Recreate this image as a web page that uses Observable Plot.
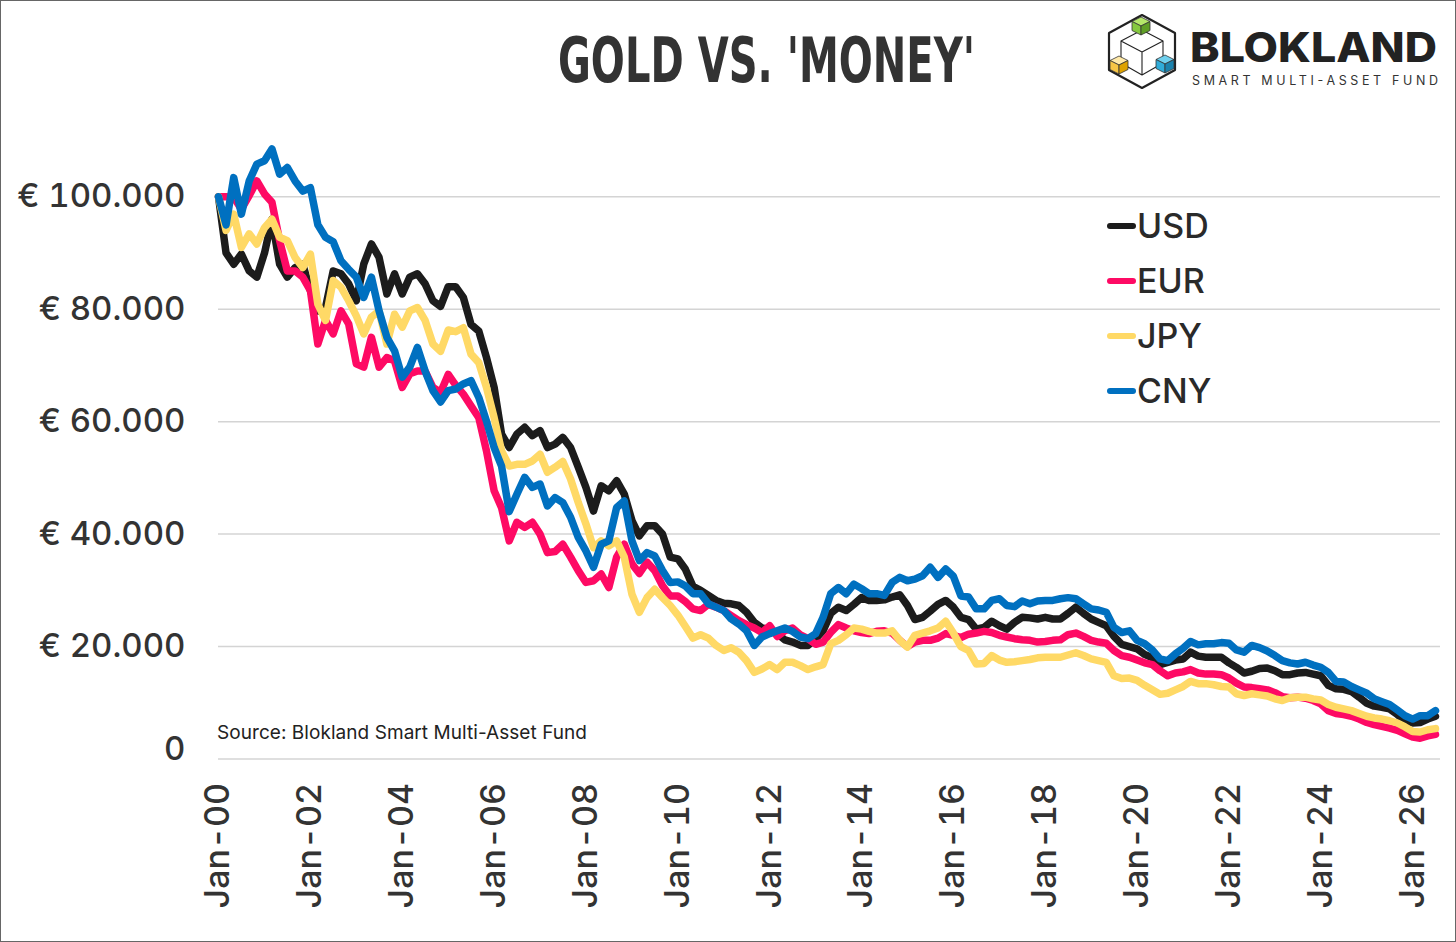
<!DOCTYPE html>
<html>
<head>
<meta charset="utf-8">
<script src="https://cdn.jsdelivr.net/npm/d3@7"></script>
<script src="https://cdn.jsdelivr.net/npm/@observablehq/plot@0.6"></script>
<style>
  html, body { margin: 0; padding: 0; background: #fff; }
  #wrap { position: relative; width: 1456px; height: 942px; overflow: hidden; background: #fff; font-family: Inter, "Noto Sans", sans-serif; }
  #head { display: block; }
  #chart svg { display: block; }
  #overlay { position: absolute; left: 0; top: 0; pointer-events: none; }
  #frame { position: absolute; left: 0; top: 0; width: 1454px; height: 940px; border: 1px solid #666; pointer-events: none; }
</style>
</head>
<body>
<div id="wrap">
  <svg id="head" width="1456" height="120"></svg>
  <div id="chart"></div>
  <svg id="overlay" width="1456" height="942"></svg>
  <div id="frame"></div>
</div>
<script>
// ---- data (values in thousands of euro, one point every two months from Jan-2000) ----
const series = ["USD", "EUR", "JPY", "CNY"];
const colors = ["#1c1c1c", "#fe0a64", "#ffd966", "#0070c0"];
const xTickYears = [2000, 2002, 2004, 2006, 2008, 2010, 2012, 2014, 2016, 2018, 2020, 2022, 2024, 2026];
const yTicks = [20, 40, 60, 80, 100];

const usd = [
  100, 90, 88, 89.8, 86.8, 85.7, 90, 96, 88, 85.7, 87.4, 88,
  83.3, 79.7, 80.3, 86.8, 86.3, 84.5, 81.5, 88, 91.6, 89.2, 82.7, 86.3,
  82.7, 85.7, 86.3, 84.5, 81.5, 80.5, 84, 84, 82.1, 77.3, 76.1, 71.4,
  66.1, 57.8, 55.4, 57.8, 59, 57.5, 58.4, 55.4, 56, 57.2, 55.4, 51.9,
  48.3, 44.1, 48.6, 47.7, 49.5, 47.1, 42.4, 39.7, 41.5, 41.5, 40, 35.9,
  35.6, 33.8, 30.7, 30, 29.1, 28.2, 27.7, 27.6, 27.3, 26.1, 24.3, 23.3,
  23, 22.3, 21.2, 20.8, 20.2, 20.2, 21.4, 22.8, 25.9, 27, 26.4, 27.5,
  28.7, 28.2, 28.2, 28.3, 28.8, 29.2, 27.3, 24.8, 25.2, 26.3, 27.5, 28.2,
  27, 25.2, 24.8, 23.1, 23.4, 24.5, 23.7, 23.1, 24.3, 25.2, 25.1, 24.9,
  25.2, 24.9, 24.9, 25.9, 27, 25.9, 24.9, 24.3, 23.7, 21.8, 20.4, 20,
  19.6, 18.6, 18, 16.8, 17.2, 17.6, 17.8, 19, 18.3, 18.1, 18.1, 18.1,
  17.1, 16.3, 15.3, 15.6, 16.1, 16.2, 15.7, 15, 15, 15.3, 15.4, 15.1,
  14.8, 13.1, 12.5, 12.4, 12, 11, 9.9, 9.4, 9.2, 8.9, 7.9, 6.8,
  6.4, 6.5, 7.1, 7.6
];
const eur = [
  100, 100, 99.9, 97.8, 100.2, 102.8, 100.5, 99, 92.2, 86.8, 86.8, 85.7,
  83.3, 73.8, 78, 75.6, 79.7, 77.4, 70.3, 69.7, 75, 69.7, 71.4, 70.8,
  66.1, 68.5, 69, 69, 66.1, 65.2, 68.4, 66.5, 64.9, 62.8, 60.7, 54.8,
  47.7, 44.7, 38.8, 42.1, 41.2, 42.1, 40, 36.7, 36.9, 38.2, 35.9, 33.5,
  31.4, 31.7, 32.9, 30.5, 35.9, 38.2, 34.7, 33, 35, 33.5, 30.8, 29,
  29, 28, 26.7, 26.4, 27.5, 27, 26.4, 25.5, 24.6, 23.9, 23.3, 22.5,
  23.7, 21.8, 22.8, 23.3, 22.1, 21.4, 20.4, 20.8, 22.5, 23.9, 23.3, 22.8,
  22.5, 22.3, 22.7, 22.8, 22.4, 21.1, 20, 20.8, 21.1, 21.1, 21.5, 22.3,
  22, 21.6, 22.2, 22.4, 22.7, 22.5, 22, 21.7, 21.4, 21.2, 21.1, 20.8,
  20.9, 21.1, 21.2, 22.1, 22.4, 21.8, 21.1, 20.8, 20.6, 19.3, 18.4, 18.1,
  17.6, 17.1, 16.8, 15.7, 14.8, 15.3, 15.5, 15.9, 15.3, 15.1, 15.1, 15,
  14.4, 13.5, 12.8, 12.7, 12.5, 12.3, 11.8, 11.1, 10.9, 11, 10.8, 10.4,
  9.8, 8.6, 8.1, 7.9, 7.6, 7.1, 6.5, 6.1, 5.8, 5.5, 5.1, 4.5,
  3.9, 3.7, 4.1, 4.4
];
const jpy = [
  100, 94, 96.9, 91, 93.4, 91.6, 94.5, 96, 92.8, 92.2, 89.2, 87.4,
  89.8, 80.9, 78, 85.1, 83.9, 81.5, 78.8, 75.6, 78.6, 79.7, 73.8, 79.1,
  76.8, 79.7, 80.3, 78, 73.8, 72.5, 76.3, 76, 76.7, 72, 70.5, 66.1,
  60.7, 54.8, 52.1, 52.4, 52.4, 53, 54.2, 51, 51.9, 52.9, 49.8, 45.6,
  41.8, 37.6, 38.8, 37.9, 38.8, 35.9, 29.3, 26.1, 28.7, 30.2, 28.7, 27.3,
  25.6, 23.6, 21.5, 22.1, 21.5, 20.2, 19.3, 19.8, 19, 17.5, 15.4, 16,
  16.8, 15.9, 17.2, 17.2, 16.6, 15.9, 16.4, 16.8, 20.5, 21.1, 22.1, 23.3,
  23.1, 22.7, 22.4, 22.4, 22.8, 21.1, 19.9, 22, 22.4, 22.8, 23.3, 24.5,
  22.4, 20, 19.3, 16.9, 17, 18.4, 17.6, 17.2, 17.3, 17.5, 17.7, 18,
  18.1, 18.1, 18.1, 18.5, 18.9, 18.4, 17.8, 17.5, 17.2, 14.8, 14.3, 14.4,
  14, 13.1, 12.3, 11.5, 11.7, 12.3, 12.9, 13.8, 13.4, 13.4, 13.2, 12.9,
  12.8, 11.6, 11.3, 11.6, 11.4, 11.2, 10.7, 10.4, 10.9, 11, 11, 10.7,
  10.5, 9.7, 9.2, 8.9, 8.6, 8.1, 7.6, 7.3, 7.1, 6.8, 6.4, 5.7,
  4.9, 4.8, 5.2, 5.4
];
const cny = [
  100, 95, 103.4, 96.9, 102.8, 105.8, 106.4, 108.5, 104, 105.2, 102.8, 101,
  101.6, 95, 92.8, 92, 88.6, 87.1, 85.7, 82.1, 85.7, 79.7, 75, 72.6,
  67.9, 69.7, 73.2, 69, 65.5, 63.5, 65.5, 65.8, 66.7, 67.3, 64.3, 60.1,
  55.4, 52.1, 44, 47.1, 50.1, 48.3, 48.9, 45, 46.5, 45.6, 43, 39.4,
  37, 34.1, 38.2, 38.8, 44.7, 45.9, 38.8, 35.3, 36.7, 36.1, 33.5, 31.4,
  31.5, 30.8, 29.4, 29.4, 27.6, 27, 26.4, 24.9, 24, 22.8, 20.2, 21.7,
  22.3, 22.8, 23.3, 22.7, 21.7, 21.4, 22.3, 25.2, 29.4, 30.5, 29.4, 31.1,
  30.3, 29.4, 29.4, 29.1, 31.4, 32.3, 31.7, 32, 32.6, 34.1, 32.3, 33.8,
  32.5, 29, 28.8, 26.7, 26.7, 28.2, 28.5, 27.3, 27.1, 28.1, 27.6, 28.1,
  28.2, 28.2, 28.5, 28.7, 28.5, 27.6, 26.7, 26.5, 26.1, 23.4, 22.5, 22.8,
  21.1, 20.5, 19.4, 17.8, 17.5, 18.7, 19.7, 20.9, 20.3, 20.5, 20.5, 20.7,
  20.6, 19.4, 19, 20.2, 19.8, 19.2, 18.4, 17.5, 17.1, 16.9, 17.2, 16.7,
  16.3, 15.4, 13.8, 13.7, 12.9, 12.3, 11.7, 10.7, 10.2, 9.7, 8.7, 7.7,
  7.1, 7.7, 7.7, 8.6
];
const valuesBySeries = [usd, eur, jpy, cny];

// ---- table ----
const dates = d3.utcMonth.every(2).range(new Date(Date.UTC(2000, 0, 1)), new Date(Date.UTC(2026, 8, 1)));
const rows = series.flatMap((s, i) => valuesBySeries[i].map((v, j) => ({ series: s, date: dates[j], value: v })));
const xTicks = xTickYears.map(y => new Date(Date.UTC(y, 0, 1)));

const euro = d => "€ " + d3.format(",")(d * 1000).replace(/,/g, ".");

const chart = Plot.plot({
  width: 1456,
  height: 822,
  marginLeft: 218,
  marginRight: 16,
  marginTop: 20,
  marginBottom: 183.5,
  style: { fontFamily: "Inter, 'Noto Sans', sans-serif", color: "#333", background: "transparent", overflow: "visible" },
  x: { type: "utc", domain: [new Date(Date.UTC(2000, 0, 1)), new Date(Date.UTC(2026, 7, 10))], label: null },
  y: { domain: [0, 110], label: null },
  color: { domain: series, range: colors },
  marks: [
    Plot.gridY([0, ...yTicks], { stroke: "#d4d4d4", strokeOpacity: 1, strokeWidth: 1.5 }),
    Plot.axisY(yTicks, { tickSize: 0, tickPadding: 33, tickFormat: euro, fontSize: 33, fontWeight: 500, label: null }),
    Plot.axisY([0], { tickSize: 0, tickPadding: 33, tickFormat: () => "0", fontSize: 33, fontWeight: 500, dy: -10, label: null }),
    Plot.axisX(xTicks, { tickSize: 0, tickPadding: 24, tickRotate: -90, tickFormat: d3.utcFormat("%b-%y"), fontSize: 34, fontWeight: 500, label: null }),
    Plot.lineY(rows, { x: "date", y: "value", z: "series", stroke: "series", strokeWidth: 7.5, strokeLinejoin: "round", strokeLinecap: "round" })
  ]
});
document.getElementById("chart").appendChild(chart);

// ---- header: title + logo ----
const head = d3.select("#head");
head.append("text")
  .attr("x", 558).attr("y", 82)
  .attr("textLength", 417).attr("lengthAdjust", "spacingAndGlyphs")
  .attr("font-family", "'DejaVu Sans Condensed', 'DejaVu Sans', sans-serif")
  .attr("font-weight", "bold").attr("font-size", 62).attr("fill", "#333")
  .text("GOLD VS. 'MONEY'");

const logo = head.append("g");
logo.append("polygon")
  .attr("points", "1142,15 1175,33 1175,70 1142,88 1109,70 1109,33")
  .attr("fill", "none").attr("stroke", "#222").attr("stroke-width", 2.2).attr("stroke-linejoin", "round");
logo.append("path")
  .attr("d", "M1142,30 L1121,41 L1142,52 L1163,41 Z M1121,41 L1121,63 L1142,75 L1163,63 L1163,41 M1142,52 L1142,75")
  .attr("fill", "none").attr("stroke", "#222").attr("stroke-width", 1.1).attr("stroke-linejoin", "round");
function cube(cx, cy, s, top, left, right) {
  const g = logo.append("g").attr("stroke", "#333").attr("stroke-width", 0.8).attr("stroke-linejoin", "round");
  g.append("polygon").attr("points", `${cx},${cy - s} ${cx + s},${cy - s / 2} ${cx},${cy} ${cx - s},${cy - s / 2}`).attr("fill", top);
  g.append("polygon").attr("points", `${cx - s},${cy - s / 2} ${cx},${cy} ${cx},${cy + s} ${cx - s},${cy + s / 2}`).attr("fill", left);
  g.append("polygon").attr("points", `${cx},${cy} ${cx + s},${cy - s / 2} ${cx + s},${cy + s / 2} ${cx},${cy + s}`).attr("fill", right);
}
cube(1141, 26, 9, "#b5e86a", "#86c93f", "#5f9e25");
cube(1119, 65, 9, "#ffe9a8", "#f7c545", "#dea200");
cube(1165, 64, 9, "#6fd0ee", "#30acd9", "#1b82ad");

// logo wordmark
head.append("text")
  .attr("x", 1190).attr("y", 62)
  .attr("textLength", 247).attr("lengthAdjust", "spacingAndGlyphs")
  .attr("font-family", "Inter, 'Noto Sans', sans-serif").attr("font-weight", 800)
  .attr("font-size", 40.5).attr("fill", "#222")
  .text("BLOKLAND");
head.append("text")
  .attr("x", 1192).attr("y", 84.5)
  .attr("textLength", 246).attr("lengthAdjust", "spacing")
  .attr("font-family", "Inter, 'Noto Sans', sans-serif").attr("font-weight", 400)
  .attr("font-size", 12.5).attr("fill", "#333")
  .text("SMART MULTI-ASSET FUND");

// ---- overlay: legend + source ----
const ov = d3.select("#overlay");
const leg = ov.append("g");
series.forEach((s, i) => {
  const cy = 226 + i * 55;
  leg.append("line").attr("x1", 1110).attr("x2", 1133).attr("y1", cy).attr("y2", cy)
    .attr("stroke", colors[i]).attr("stroke-width", 6).attr("stroke-linecap", "round");
  leg.append("text").attr("x", 1137).attr("y", cy + 11.5)
    .attr("font-family", "Inter, 'Noto Sans', sans-serif").attr("font-size", 34).attr("font-weight", 500).attr("fill", "#2a2a2a")
    .text(s);
});
ov.append("text").attr("x", 217).attr("y", 739)
  .attr("font-family", "Inter, 'Noto Sans', sans-serif").attr("font-size", 19).attr("fill", "#222")
  .attr("textLength", 370).attr("lengthAdjust", "spacing")
  .text("Source: Blokland Smart Multi-Asset Fund");
</script>
</body>
</html>
